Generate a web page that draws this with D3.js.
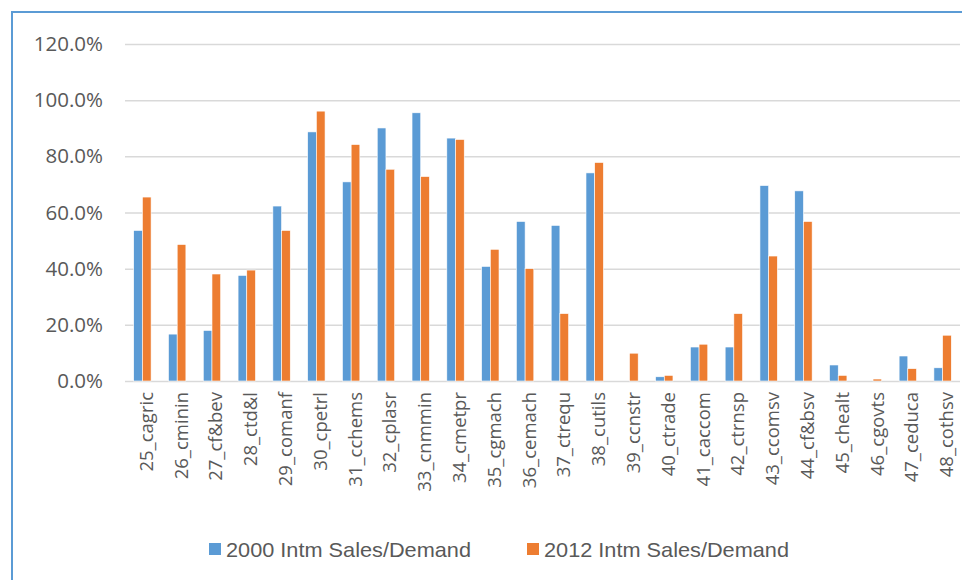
<!DOCTYPE html>
<html>
<head>
<meta charset="utf-8">
<script src="https://cdn.jsdelivr.net/npm/d3@7"></script>
<style>
  body { margin: 0; background: #fff; }
  svg { display: block; }
</style>
</head>
<body>
<script>
var categories = ['25_cagric', '26_cminin', '27_cf&bev', '28_ctd&l', '29_comanf', '30_cpetrl',
    '31_cchems', '32_cplasr', '33_cnmmin', '34_cmetpr', '35_cgmach', '36_cemach', '37_ctrequ',
    '38_cutils', '39_ccnstr', '40_ctrade', '41_caccom', '42_ctrnsp', '43_ccomsv', '44_cf&bsv',
    '45_chealt', '46_cgovts', '47_ceduca', '48_cothsv'];
var sales2000 = [0.536, 0.167, 0.180, 0.376, 0.623, 0.887, 0.709, 0.901, 0.955, 0.865, 0.408, 0.568,
    0.554, 0.741, 0.0, 0.015, 0.121, 0.121, 0.696, 0.677, 0.057, 0.0, 0.089, 0.047];
var sales2012 = [0.655, 0.486, 0.381, 0.395, 0.536, 0.961, 0.842, 0.754, 0.728, 0.860, 0.469, 0.400,
    0.240, 0.778, 0.099, 0.020, 0.131, 0.240, 0.445, 0.568, 0.020, 0.007, 0.044, 0.163];
var seriesNames = ['2000 Intm Sales/Demand', '2012 Intm Sales/Demand'];
var seriesColors = ['#5b9bd5', '#ed7d31'];
var yTicks = [0, 0.2, 0.4, 0.6, 0.8, 1.0, 1.2];

var width = 962, height = 580;
var svg = d3.select('body').append('svg').attr('width', width).attr('height', height);

var rows = categories.map(function(c, i) { return { cat: c, values: [sales2000[i], sales2012[i]] }; });

var x = d3.scaleBand().domain(categories).range([125, 960]).paddingInner(0.5).paddingOuter(0.25);
var x1 = d3.scaleBand().domain([0, 1]).range([0, x.bandwidth()]);
var y = d3.scaleLinear().domain([0, 1.2]).range([381, 44]);

/*FRAME*/
svg.append('path')
    .attr('d', 'M12,' + height + 'V12H' + width)
    .attr('fill', 'none')
    .attr('stroke', '#5b9bd5')
    .attr('stroke-width', 2);

/*GRID + Y LABELS*/
svg.append('g')
    .attr('transform', 'translate(125,0)')
    .call(d3.axisLeft(y).tickValues(yTicks).tickSize(-835).tickFormat(d3.format('.1%')))
    .call(function(g) {
        g.select('.domain').remove();
        g.selectAll('.tick line').attr('stroke', '#d9d9d9').attr('stroke-width', 1.5);
        g.selectAll('.tick text')
            .attr('x', -22)
            .attr('fill', '#595959')
            .attr('font-family', '"Open Sans", "Liberation Sans", sans-serif')
            .attr('font-size', 20.5);
    });

/*BARS*/
svg.append('g').selectAll('g')
    .data(rows)
    .enter().append('g')
        .attr('transform', function(d) { return 'translate(' + x(d.cat) + ',0)'; })
    .selectAll('rect')
    .data(function(d) { return d.values; })
    .enter().append('rect')
        .attr('x', function(d, i) { return x1(i); })
        .attr('y', function(d) { return y(d); })
        .attr('width', x1.bandwidth())
        .attr('height', function(d) { return y(0) - y(d); })
        .attr('fill', function(d, i) { return seriesColors[i]; })
        .attr('stroke', '#fff')
        .attr('stroke-width', 0.6);

/*X LABELS*/
svg.append('g').selectAll('text')
    .data(categories)
    .enter().append('text')
        .attr('transform', function(d) { return 'translate(' + (x(d) + x.bandwidth() / 2 + 3) + ',392) rotate(-90)'; })
        .attr('text-anchor', 'end')
        .attr('dominant-baseline', 'central')
        .attr('fill', '#595959')
        .attr('font-family', '"Open Sans", "Liberation Sans", sans-serif')
        .attr('font-size', 18.5)
        .text(function(d) { return d; });

/*LEGEND*/
var legendX = [209, 527];
var legend = svg.append('g').selectAll('g')
    .data(seriesNames)
    .enter().append('g')
        .attr('transform', function(d, i) { return 'translate(' + legendX[i] + ',549)'; });
legend.append('rect')
    .attr('x', 0).attr('y', -6)
    .attr('width', 12).attr('height', 12)
    .attr('fill', function(d, i) { return seriesColors[i]; });
legend.append('text')
    .attr('x', 17)
    .attr('dominant-baseline', 'central')
    .attr('fill', '#595959')
    .attr('font-family', '"Liberation Sans", sans-serif')
    .attr('font-size', 21)
    .attr('textLength', 245)
    .attr('lengthAdjust', 'spacingAndGlyphs')
    .text(function(d) { return d; });
</script>
</body>
</html>
